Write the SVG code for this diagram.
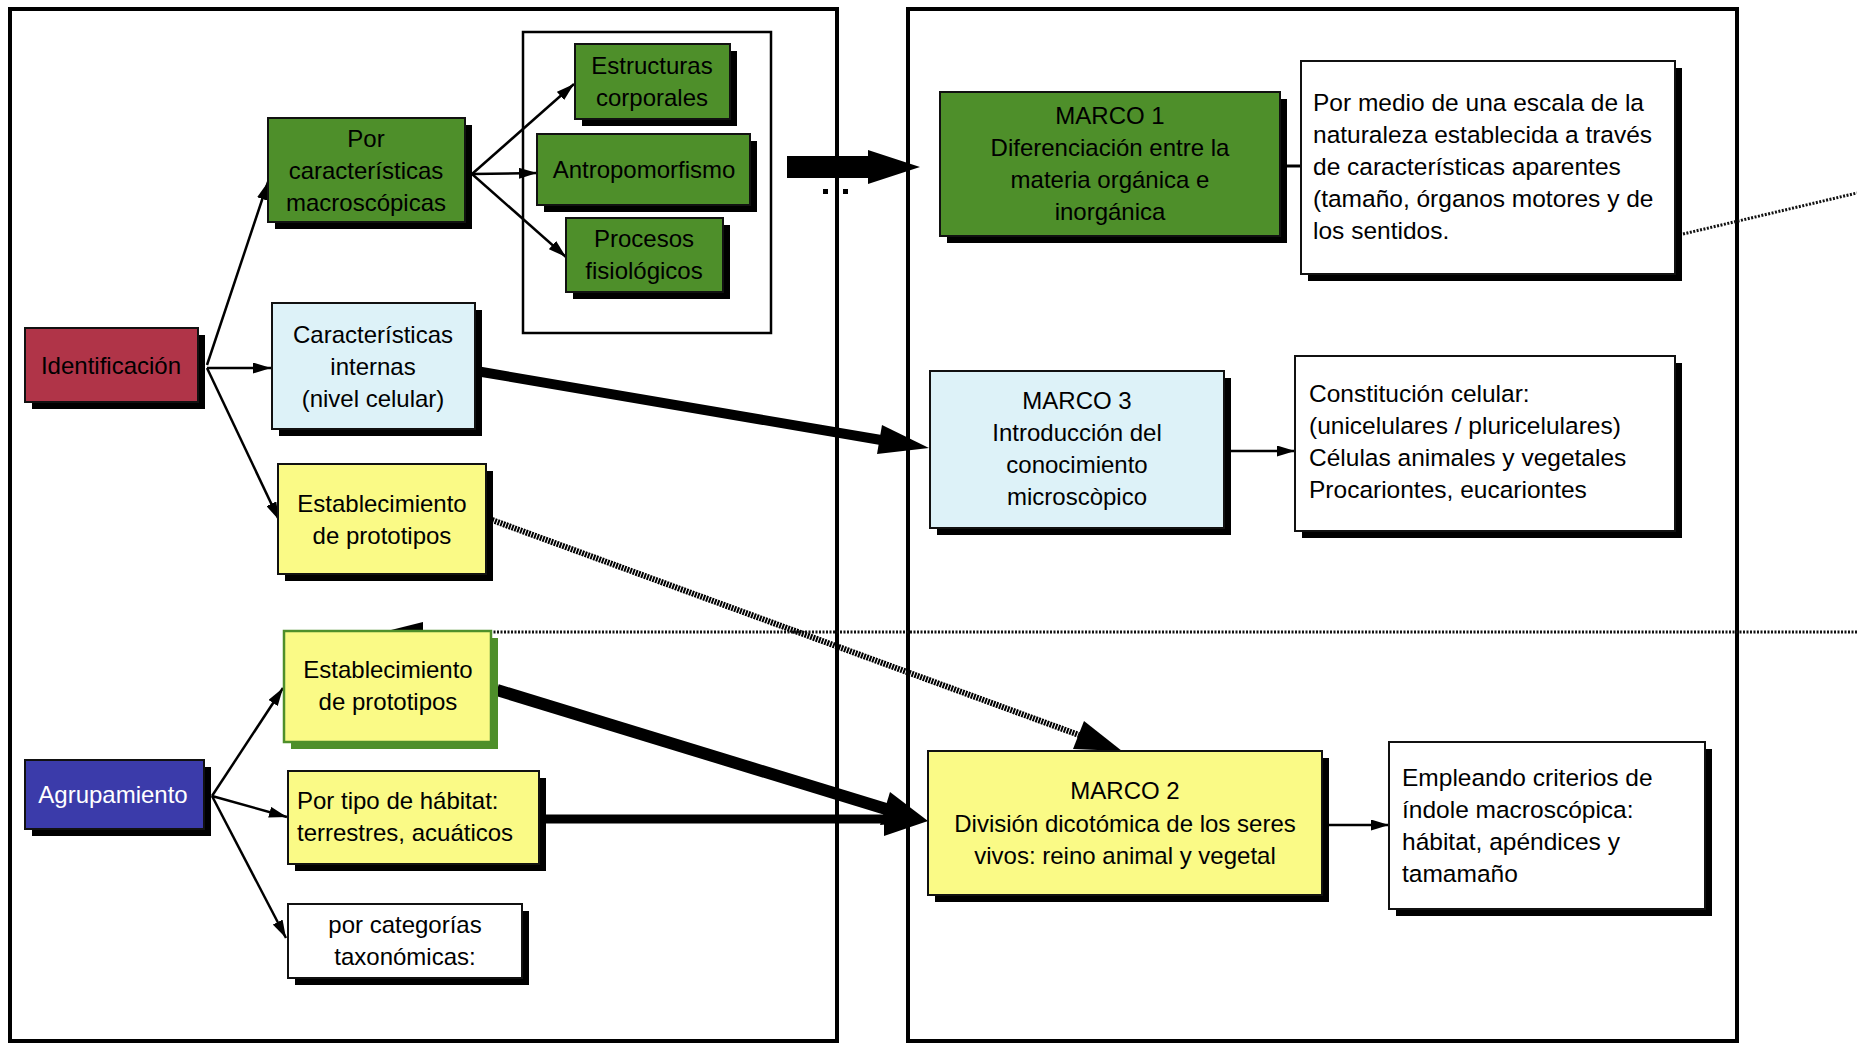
<svg xmlns="http://www.w3.org/2000/svg" width="1857" height="1044" viewBox="0 0 1857 1044">
<defs>
<style>
text{font-family:"Liberation Sans",Arial,sans-serif;font-size:24px;fill:#000}
.l{font-size:24.5px}
.c{text-anchor:middle}
.w{fill:#fff}
.sh{fill:#000}
.bx{stroke:#111;stroke-width:2}
.green{fill:#4E8F2A}
.red{fill:#B03448}
.blue{fill:#3B3BAA}
.lblue{fill:#DDF2F8}
.yel{fill:#FAFA86}
.white{fill:#fff}
.thin{stroke:#000;stroke-width:2.5;fill:none;marker-end:url(#ah)}
.thick{stroke:#000;fill:none}
.frame{fill:none;stroke:#000;stroke-width:4}
</style>
<marker id="ah" viewBox="0 0 18 11" refX="18" refY="5.5" markerWidth="18" markerHeight="11" markerUnits="userSpaceOnUse" orient="auto">
<path d="M0,0 L18,5.5 L0,11 Z" fill="#000"/>
</marker>
</defs>
<rect width="1857" height="1044" fill="#fff"/>
<g id="frames">
<rect class="frame" x="10" y="9" width="827" height="1032"/>
<rect class="frame" x="908" y="9" width="829" height="1032"/>
<rect x="523" y="32" width="248" height="301" fill="#fff" stroke="#000" stroke-width="2.5"/>
</g>
<g id="connectors">
<line class="thin" x1="207" y1="365" x2="268" y2="182"/>
<line class="thin" x1="207" y1="368" x2="271" y2="368"/>
<line class="thin" x1="207" y1="368" x2="279" y2="520"/>
<line class="thin" x1="472" y1="174" x2="574" y2="84"/>
<line class="thin" x1="472" y1="174" x2="537" y2="173"/>
<line class="thin" x1="472" y1="174" x2="566" y2="257"/>
<line class="thin" x1="212" y1="796" x2="283" y2="688"/>
<line class="thin" x1="212" y1="796" x2="287" y2="817"/>
<line class="thin" x1="212" y1="796" x2="286" y2="938"/>
<line class="thin" x1="1224" y1="451" x2="1295" y2="451"/>
<line class="thin" x1="1322" y1="825" x2="1389" y2="825"/>
<line stroke="#000" stroke-width="3" x1="1280" y1="166" x2="1301" y2="166"/>
<polygon points="787,156 868,156 868,150 920,167 868,184 868,178 787,178" fill="#000"/>
<rect x="823" y="189" width="5" height="5" fill="#000"/>
<rect x="843" y="189" width="5" height="5" fill="#000"/>
<line class="thick" stroke-width="10" x1="476" y1="371" x2="881" y2="440"/>
<polygon points="882,425 877,454 929,448" fill="#000"/>
<line class="thick" stroke-width="12" x1="497" y1="690" x2="886" y2="809"/>
<polygon points="890,792 880,825 928,821" fill="#000"/>
<line class="thick" stroke-width="9" x1="539" y1="819" x2="884" y2="819"/>
<polygon points="884,803 884,836 928,821" fill="#000"/>
<line stroke="#000" stroke-width="6" stroke-dasharray="2 1" x1="492" y1="520" x2="1079" y2="735"/>
<polygon points="1084,721 1073,749 1122,751" fill="#000"/>
<line stroke="#111" stroke-width="3" stroke-dasharray="2 1.5" x1="1857" y1="632" x2="423" y2="632"/>
<polygon points="423,622 423,642 383,632" fill="#000"/>
<line stroke="#111" stroke-width="3" stroke-dasharray="2 1.5" x1="1683" y1="234" x2="1857" y2="193"/>
</g>
<g id="identificacion">
<rect class="sh" x="32" y="335" width="173" height="74"/>
<rect class="bx red" x="25" y="328" width="173" height="74"/>
<text class="c" x="111" y="374">Identificación</text>
</g>
<g id="por-caracteristicas-macro">
<rect class="sh" x="275" y="125" width="197" height="104"/>
<rect class="bx green" x="268" y="118" width="197" height="104"/>
<text class="c" x="366" y="147">Por</text>
<text class="c" x="366" y="179">características</text>
<text class="c" x="366" y="211">macroscópicas</text>
</g>
<g id="estructuras">
<rect class="sh" x="582" y="51" width="155" height="75"/>
<rect class="bx green" x="575" y="44" width="155" height="75"/>
<text class="c" x="652" y="74">Estructuras</text>
<text class="c" x="652" y="106">corporales</text>
</g>
<g id="antropomorfismo">
<rect class="sh" x="544" y="141" width="213" height="71"/>
<rect class="bx green" x="537" y="134" width="213" height="71"/>
<text class="c" x="644" y="178">Antropomorfismo</text>
</g>
<g id="procesos">
<rect class="sh" x="573" y="225" width="157" height="74"/>
<rect class="bx green" x="566" y="218" width="157" height="74"/>
<text class="c" x="644" y="247">Procesos</text>
<text class="c" x="644" y="279">fisiológicos</text>
</g>
<g id="caracteristicas-internas">
<rect class="sh" x="279" y="310" width="203" height="126"/>
<rect class="bx lblue" x="272" y="303" width="203" height="126"/>
<text class="c" x="373" y="343">Características</text>
<text class="c" x="373" y="375">internas</text>
<text class="c" x="373" y="407">(nivel celular)</text>
</g>
<g id="establecimiento-1">
<rect class="sh" x="285" y="471" width="208" height="110"/>
<rect class="bx yel" x="278" y="464" width="208" height="110"/>
<text class="c" x="382" y="512">Establecimiento</text>
<text class="c" x="382" y="544">de prototipos</text>
</g>
<g id="establecimiento-2">
<rect x="291" y="638" width="207" height="111" fill="#4E8F2A"/>
<rect class="yel" x="284" y="631" width="207" height="111" stroke="#4E8F2A" stroke-width="2.5"/>
<text class="c" x="388" y="678">Establecimiento</text>
<text class="c" x="388" y="710">de prototipos</text>
</g>
<g id="agrupamiento">
<rect class="sh" x="32" y="767" width="179" height="69"/>
<rect class="bx blue" x="25" y="760" width="179" height="69"/>
<text class="c w" x="113" y="803">Agrupamiento</text>
</g>
<g id="por-tipo-habitat">
<rect class="sh" x="295" y="778" width="251" height="93"/>
<rect class="bx yel" x="288" y="771" width="251" height="93"/>
<text x="297" y="809">Por tipo de hábitat:</text>
<text x="297" y="841">terrestres, acuáticos</text>
</g>
<g id="por-categorias">
<rect class="sh" x="295" y="911" width="234" height="74"/>
<rect class="bx white" x="288" y="904" width="234" height="74"/>
<text class="c" x="405" y="933">por categorías</text>
<text class="c" x="405" y="965">taxonómicas:</text>
</g>
<g id="marco1">
<rect class="sh" x="947" y="99" width="340" height="144"/>
<rect class="bx green" x="940" y="92" width="340" height="144"/>
<text class="c" x="1110" y="124">MARCO 1</text>
<text class="c" x="1110" y="156">Diferenciación entre la</text>
<text class="c" x="1110" y="188">materia orgánica e</text>
<text class="c" x="1110" y="220">inorgánica</text>
</g>
<g id="texto-marco1">
<rect class="sh" x="1308" y="68" width="374" height="213"/>
<rect class="bx white" x="1301" y="61" width="374" height="213"/>
<text class="l" x="1313" y="111">Por medio de una escala de la</text>
<text class="l" x="1313" y="143">naturaleza establecida a través</text>
<text class="l" x="1313" y="175">de características aparentes</text>
<text class="l" x="1313" y="207">(tamaño, órganos motores y de</text>
<text class="l" x="1313" y="239">los sentidos.</text>
</g>
<g id="marco3">
<rect class="sh" x="937" y="378" width="294" height="157"/>
<rect class="bx lblue" x="930" y="371" width="294" height="157"/>
<text class="c" x="1077" y="409">MARCO 3</text>
<text class="c" x="1077" y="441">Introducción del</text>
<text class="c" x="1077" y="473">conocimiento</text>
<text class="c" x="1077" y="505">microscòpico</text>
</g>
<g id="texto-marco3">
<rect class="sh" x="1302" y="363" width="380" height="175"/>
<rect class="bx white" x="1295" y="356" width="380" height="175"/>
<text class="l" x="1309" y="402">Constitución celular:</text>
<text class="l" x="1309" y="434">(unicelulares / pluricelulares)</text>
<text class="l" x="1309" y="466">Células animales y vegetales</text>
<text class="l" x="1309" y="498">Procariontes, eucariontes</text>
</g>
<g id="marco2">
<rect class="sh" x="935" y="758" width="394" height="144"/>
<rect class="bx yel" x="928" y="751" width="394" height="144"/>
<text class="c" x="1125" y="799">MARCO 2</text>
<text class="c" x="1125" y="832">División dicotómica de los seres</text>
<text class="c" x="1125" y="864">vivos: reino animal y vegetal</text>
</g>
<g id="texto-marco2">
<rect class="sh" x="1396" y="749" width="316" height="167"/>
<rect class="bx white" x="1389" y="742" width="316" height="167"/>
<text class="l" x="1402" y="786">Empleando criterios de</text>
<text class="l" x="1402" y="818">índole macroscópica:</text>
<text class="l" x="1402" y="850">hábitat, apéndices y</text>
<text class="l" x="1402" y="882">tamamaño</text>
</g>
</svg>
